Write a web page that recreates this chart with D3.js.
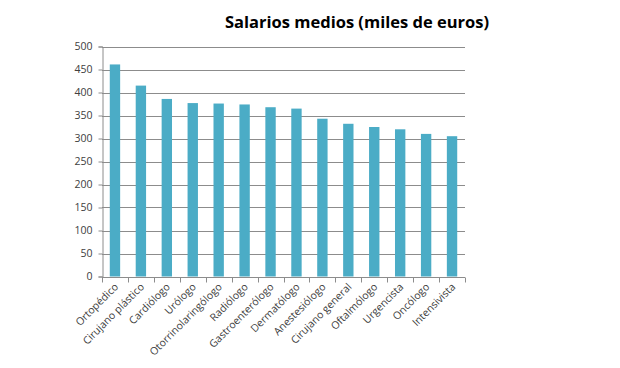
<!DOCTYPE html>
<html><head><meta charset="utf-8">
<script src="https://cdn.jsdelivr.net/npm/d3@7"></script>
<style>body{margin:0;background:#fff}svg{display:block}</style>
</head><body>
<script>
const categories = ["Ortopédico","Cirujano plástico","Cardiólogo","Urólogo","Otorrinolaringólogo","Radiólogo","Gastroenterólogo","Dermatólogo","Anestesiólogo","Cirujano general","Oftalmólogo","Urgencista","Oncólogo","Intensivista"];
const salaries = [461, 415, 386, 377, 376, 374, 368, 365, 343, 332, 325, 320, 310, 305];
const yTicks = [0,50,100,150,200,250,300,350,400,450,500];
const title = "Salarios medios (miles de euros)";

const W = 620, H = 368;
const m = {left:102, right:155, top:46.5, bottom:91.5};
const svg = d3.select("body").append("svg").attr("width",W).attr("height",H);
const x = d3.scaleBand().domain(categories).range([m.left, W-m.right]).paddingInner(0.6).paddingOuter(0.3);
const y = d3.scaleLinear().domain([0,500]).range([H-m.bottom, m.top]);
const font = "'Open Sans', sans-serif";

// gridlines
svg.append("g").selectAll("line").data(yTicks.filter(d=>d>0)).join("line")
  .attr("x1",m.left).attr("x2",W-m.right)
  .attr("y1",d=>Math.round(y(d))+0.5).attr("y2",d=>Math.round(y(d))+0.5)
  .attr("stroke","#8c8c8c").attr("stroke-width",1);

// bars
svg.append("g").selectAll("rect").data(categories).join("rect")
  .attr("x",(d)=>x(d)).attr("width",x.bandwidth())
  .attr("y",(d,i)=>y(salaries[i])).attr("height",(d,i)=>y(0)-y(salaries[i]))
  .attr("fill","#4bacc6");

// y axis
const yAxis = svg.append("g").attr("transform",`translate(${m.left+0.5},0)`)
  .call(d3.axisLeft(y).tickValues(yTicks).tickSize(4).tickPadding(6));
yAxis.selectAll("text").attr("font-family",font).attr("font-size",10.5).attr("fill","#404040");
yAxis.selectAll("line, path").attr("stroke","#8c8c8c");

// x axis
const step = x.step();
const xAxisG = svg.append("g").attr("transform",`translate(0,${Math.round(y(0))+0.5})`);
xAxisG.append("line").attr("x1",m.left).attr("x2",W-m.right).attr("stroke","#8c8c8c");
const boundaries = d3.range(categories.length+1).map(i=>m.left + i*( (W-m.right-m.left)/categories.length));
xAxisG.selectAll("line.tk").data(boundaries).join("line").attr("class","tk")
  .attr("x1",d=>Math.round(d)+0.5).attr("x2",d=>Math.round(d)+0.5).attr("y1",0).attr("y2",5).attr("stroke","#8c8c8c");
xAxisG.selectAll("text").data(categories).join("text")
  .attr("transform",d=>`translate(${x(d)+x.bandwidth()/2+4},10) rotate(-45)`)
  .attr("text-anchor","end").attr("font-family",font).attr("font-size",10.5).attr("fill","#404040")
  .text(d=>d);

// title
svg.append("text").attr("x",357).attr("y",28).attr("text-anchor","middle")
  .attr("font-family",font).attr("font-weight","bold").attr("font-size",16.5).attr("fill","#000")
  .text(title);
</script>
</body></html>
